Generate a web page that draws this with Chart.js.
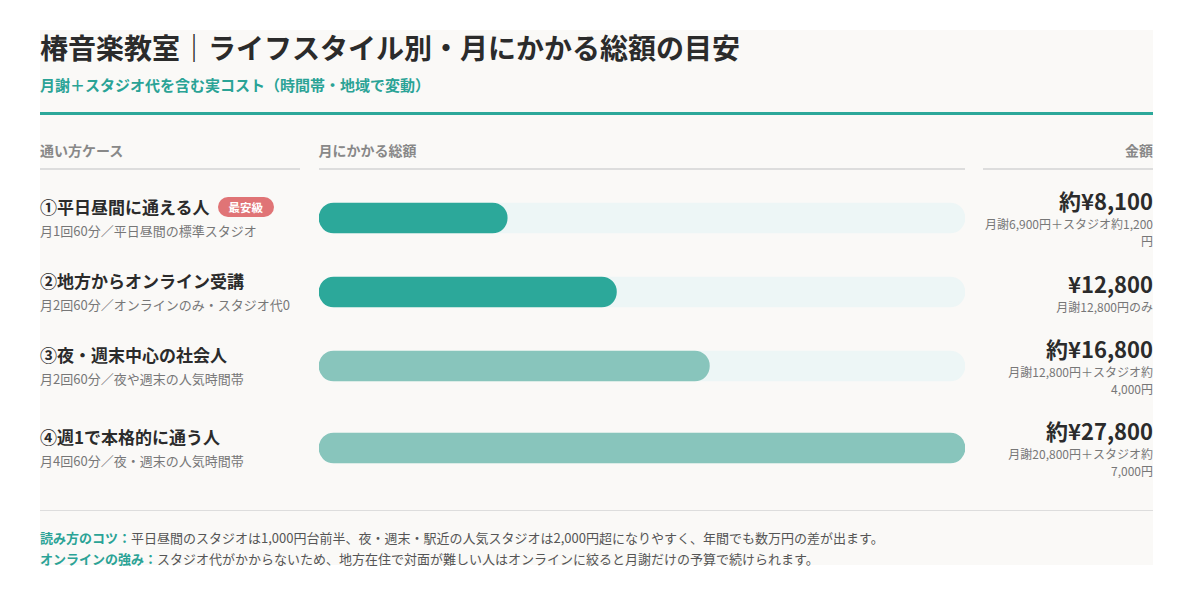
<!DOCTYPE html>
<html lang="ja">
<head>
<meta charset="utf-8">
<script src="https://cdn.jsdelivr.net/npm/chart.js@4.4.1/dist/chart.umd.min.js"></script>
<style>
  body { margin: 0; background: #fff; font-family: "Noto Sans CJK JP", "Noto Sans", sans-serif; }
  #card { position: absolute; left: 40px; top: 30px; width: 1113px; height: 535px; background: #faf9f7; }
  h1 { margin: 0; font-size: 28px; line-height: 34px; font-weight: 700; color: #2b2b2b; }
  .sub { margin-top: 11px; font-size: 15px; line-height: 20px; font-weight: 600; color: #2aa396; }
  .rule { margin-top: 17px; height: 3px; background: #2ca89a; }
  .grid { display: grid; grid-template-columns: 260px 646px 170px; column-gap: 18.5px; }
  .head { margin-top: 26px; }
  .head div { font-size: 14px; line-height: 18px; font-weight: 700; color: #888; padding-bottom: 9px; border-bottom: 2px solid #ddd; }
  .head div:last-child { text-align: right; }
  #rows { margin-top: 7px; }
  .row { align-items: center; padding: 10px 0; }
  .case { font-size: 17px; line-height: 24px; font-weight: 700; color: #2b2b2b; white-space: nowrap; }
  .badge { display: inline-block; margin-left: 8px; padding: 0 11px; height: 20px; line-height: 20px; border-radius: 10px;
           background: #e07476; color: #fff; font-size: 11.5px; font-weight: 700; vertical-align: 2px; }
  .detail { margin-top: 2px; font-size: 13px; line-height: 20px; color: #777; white-space: nowrap; }
  .barbox { position: relative; height: 40px; }
  .val { text-align: right; }
  .total { font-size: 22px; line-height: 26px; font-weight: 700; color: #2b2b2b; }
  .brk { margin-top: 2px; font-size: 12px; line-height: 17px; color: #777; }
  .foot { margin-top: 21px; border-top: 1px solid #ddd; padding-top: 16px; }
  .foot p { margin: 0; font-size: 13px; line-height: 21px; color: #555; white-space: nowrap; }
  .foot b { color: #2aa396; }
</style>
</head>
<body>
<div id="card">
  <h1>椿音楽教室｜ライフスタイル別・月にかかる総額の目安</h1>
  <div class="sub">月謝＋スタジオ代を含む実コスト（時間帯・地域で変動）</div>
  <div class="rule"></div>
  <div class="grid head"><div>通い方ケース</div><div>月にかかる総額</div><div>金額</div></div>
  <div id="rows"></div>
  <div class="foot" id="foot"></div>
</div>
<script>
// 通い方ケースごとのデータ
const cases = ['①平日昼間に通える人', '②地方からオンライン受講', '③夜・週末中心の社会人', '④週1で本格的に通う人'];
const details = ['月1回60分／平日昼間の標準スタジオ', '月2回60分／オンラインのみ・スタジオ代0', '月2回60分／夜や週末の人気時間帯', '月4回60分／夜・週末の人気時間帯'];
const badges = ['最安級', '', '', ''];
const totals = [8100, 12800, 16800, 27800];
const totalLabels = ['約¥8,100', '¥12,800', '約¥16,800', '約¥27,800'];
const breakdowns = [
    ['月謝6,900円＋スタジオ約1,200', '円'],
    ['月謝12,800円のみ'],
    ['月謝12,800円＋スタジオ約', '4,000円'],
    ['月謝20,800円＋スタジオ約', '7,000円']
];
const notes = [
    ['読み方のコツ：', '平日昼間のスタジオは1,000円台前半、夜・週末・駅近の人気スタジオは2,000円超になりやすく、年間でも数万円の差が出ます。'],
    ['オンラインの強み：', 'スタジオ代がかからないため、地方在住で対面が難しい人はオンラインに絞ると月謝だけの予算で続けられます。']
];

// 見た目
const barColors = ['#2ca89a', '#2ca89a', '#88c5bc', '#88c5bc'];
const trackColor = '#edf6f6';
const maxTotal = Math.max(...totals);

const rowsEl = document.getElementById('rows');
cases.forEach(function (name, i) {
    const row = document.createElement('div');
    row.className = 'grid row';
    const badge = badges[i] ? '<span class="badge">' + badges[i] + '</span>' : '';
    row.innerHTML =
        '<div><div class="case">' + name + badge + '</div><div class="detail">' + details[i] + '</div></div>' +
        '<div class="barbox"><canvas></canvas></div>' +
        '<div class="val"><div class="total">' + totalLabels[i] + '</div><div class="brk">' + breakdowns[i].join('<br>') + '</div></div>';
    rowsEl.appendChild(row);

    new Chart(row.querySelector('canvas'), {
        type: 'bar',
        data: {
            labels: [name],
            datasets: [
                { data: [totals[i]], backgroundColor: barColors[i], order: 1 },
                { data: [maxTotal], backgroundColor: trackColor, order: 2 }
            ]
        },
        options: {
            indexAxis: 'y',
            responsive: true,
            maintainAspectRatio: false,
            animation: false,
            events: [],
            datasets: { bar: { grouped: false, barThickness: 30, borderRadius: 15, borderSkipped: false } },
            layout: { padding: 0 },
            scales: {
                x: { display: false, min: 0, max: maxTotal },
                y: { display: false }
            },
            plugins: { legend: { display: false }, tooltip: { enabled: false } }
        }
    });
});

document.getElementById('foot').innerHTML = notes.map(function (n) {
    return '<p><b>' + n[0] + '</b>' + n[1] + '</p>';
}).join('');
</script>
</body>
</html>
